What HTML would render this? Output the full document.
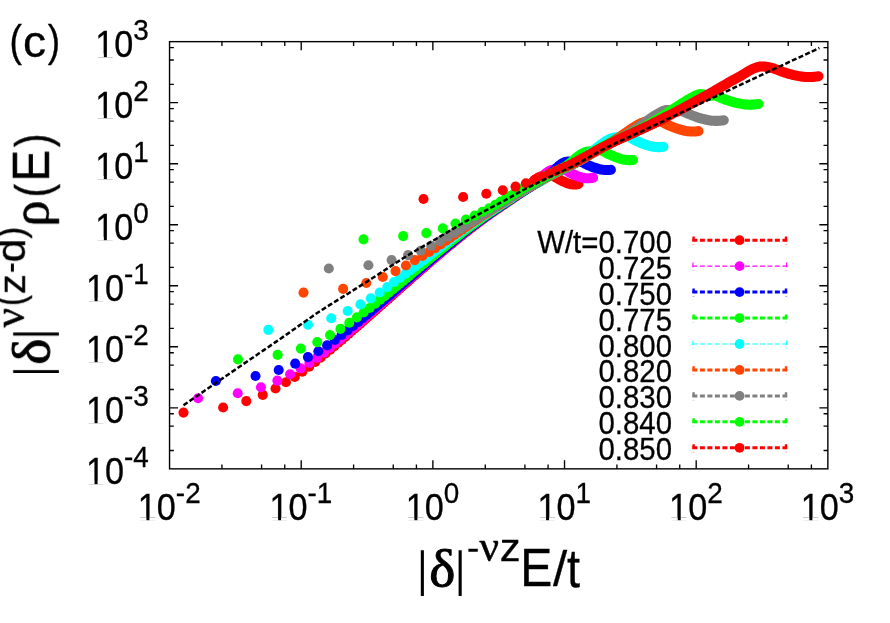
<!DOCTYPE html>
<html><head><meta charset="utf-8"><title>chart</title>
<style>html,body{margin:0;padding:0;background:#fff}body{width:890px;height:623px;overflow:hidden;font-family:"Liberation Sans",sans-serif}</style></head>
<body>
<svg width="890" height="623" viewBox="0 0 890 623" style="display:block">
<rect width="890" height="623" fill="#fff"/>
<path d="M221.94 468.85 v-4.3 M221.94 41.65 v4.3 M261.58 468.85 v-4.3 M261.58 41.65 v4.3 M284.76 468.85 v-4.3 M284.76 41.65 v4.3 M301.21 468.85 v-8.5 M301.21 41.65 v8.5 M353.6 468.85 v-4.3 M353.6 41.65 v4.3 M393.24 468.85 v-4.3 M393.24 41.65 v4.3 M416.42 468.85 v-4.3 M416.42 41.65 v4.3 M432.87 468.85 v-8.5 M432.87 41.65 v8.5 M485.26 468.85 v-4.3 M485.26 41.65 v4.3 M524.9 468.85 v-4.3 M524.9 41.65 v4.3 M548.08 468.85 v-4.3 M548.08 41.65 v4.3 M564.53 468.85 v-8.5 M564.53 41.65 v8.5 M616.92 468.85 v-4.3 M616.92 41.65 v4.3 M656.56 468.85 v-4.3 M656.56 41.65 v4.3 M679.74 468.85 v-4.3 M679.74 41.65 v4.3 M696.19 468.85 v-8.5 M696.19 41.65 v8.5 M748.58 468.85 v-4.3 M748.58 41.65 v4.3 M788.22 468.85 v-4.3 M788.22 41.65 v4.3 M811.4 468.85 v-4.3 M811.4 41.65 v4.3 M169.55 450.48 h4.3 M827.85 450.48 h-4.3 M169.55 426.19 h4.3 M827.85 426.19 h-4.3 M169.55 413.74 h4.3 M827.85 413.74 h-4.3 M169.55 407.82 h8.5 M827.85 407.82 h-8.5 M169.55 389.45 h4.3 M827.85 389.45 h-4.3 M169.55 365.16 h4.3 M827.85 365.16 h-4.3 M169.55 352.71 h4.3 M827.85 352.71 h-4.3 M169.55 346.79 h8.5 M827.85 346.79 h-8.5 M169.55 328.42 h4.3 M827.85 328.42 h-4.3 M169.55 304.14 h4.3 M827.85 304.14 h-4.3 M169.55 291.68 h4.3 M827.85 291.68 h-4.3 M169.55 285.76 h8.5 M827.85 285.76 h-8.5 M169.55 267.39 h4.3 M827.85 267.39 h-4.3 M169.55 243.11 h4.3 M827.85 243.11 h-4.3 M169.55 230.65 h4.3 M827.85 230.65 h-4.3 M169.55 224.74 h8.5 M827.85 224.74 h-8.5 M169.55 206.36 h4.3 M827.85 206.36 h-4.3 M169.55 182.08 h4.3 M827.85 182.08 h-4.3 M169.55 169.62 h4.3 M827.85 169.62 h-4.3 M169.55 163.71 h8.5 M827.85 163.71 h-8.5 M169.55 145.34 h4.3 M827.85 145.34 h-4.3 M169.55 121.05 h4.3 M827.85 121.05 h-4.3 M169.55 108.59 h4.3 M827.85 108.59 h-4.3 M169.55 102.68 h8.5 M827.85 102.68 h-8.5 M169.55 84.31 h4.3 M827.85 84.31 h-4.3 M169.55 60.02 h4.3 M827.85 60.02 h-4.3 M169.55 47.56 h4.3 M827.85 47.56 h-4.3" stroke="#000" stroke-width="1.35" fill="none"/>
<rect x="169.55" y="41.65" width="658.3" height="427.2" fill="none" stroke="#000" stroke-width="1.4"/>
<g font-family="Liberation Sans, sans-serif" fill="#000" stroke="#000" stroke-width="0.3" opacity="0.999">
<g transform="translate(85.95 483.85) scale(1 1.089)"><text font-size="34.2">10<tspan font-size="27.9" dy="-15.6">-4</tspan></text><path fill="#fff" stroke="none" d="M1.71 -2.55H8.60V0.6H1.71z M11.62 -2.55H18.13V0.6H11.62z"/></g>
<g transform="translate(85.95 422.82) scale(1 1.089)"><text font-size="34.2">10<tspan font-size="27.9" dy="-15.6">-3</tspan></text><path fill="#fff" stroke="none" d="M1.71 -2.55H8.60V0.6H1.71z M11.62 -2.55H18.13V0.6H11.62z"/></g>
<g transform="translate(85.95 361.79) scale(1 1.089)"><text font-size="34.2">10<tspan font-size="27.9" dy="-15.6">-2</tspan></text><path fill="#fff" stroke="none" d="M1.71 -2.55H8.60V0.6H1.71z M11.62 -2.55H18.13V0.6H11.62z"/></g>
<g transform="translate(85.95 300.76) scale(1 1.089)"><text font-size="34.2">10<tspan font-size="27.9" dy="-15.6">-1</tspan></text><path fill="#fff" stroke="none" d="M1.71 -2.55H8.60V0.6H1.71z M11.62 -2.55H18.13V0.6H11.62z"/></g>
<g transform="translate(95.24 239.74) scale(1 1.089)"><text font-size="34.2">10<tspan font-size="27.9" dy="-15.6">0</tspan></text><path fill="#fff" stroke="none" d="M1.71 -2.55H8.60V0.6H1.71z M11.62 -2.55H18.13V0.6H11.62z"/></g>
<g transform="translate(95.24 178.71) scale(1 1.089)"><text font-size="34.2">10<tspan font-size="27.9" dy="-15.6">1</tspan></text><path fill="#fff" stroke="none" d="M1.71 -2.55H8.60V0.6H1.71z M11.62 -2.55H18.13V0.6H11.62z"/></g>
<g transform="translate(95.24 117.68) scale(1 1.089)"><text font-size="34.2">10<tspan font-size="27.9" dy="-15.6">2</tspan></text><path fill="#fff" stroke="none" d="M1.71 -2.55H8.60V0.6H1.71z M11.62 -2.55H18.13V0.6H11.62z"/></g>
<g transform="translate(95.24 56.65) scale(1 1.089)"><text font-size="34.2">10<tspan font-size="27.9" dy="-15.6">3</tspan></text><path fill="#fff" stroke="none" d="M1.71 -2.55H8.60V0.6H1.71z M11.62 -2.55H18.13V0.6H11.62z"/></g>
<g transform="translate(137.82 520) scale(1 1.089)"><text font-size="34.2">10<tspan font-size="27.9" dy="-15.6">-2</tspan></text><path fill="#fff" stroke="none" d="M1.71 -2.55H8.60V0.6H1.71z M11.62 -2.55H18.13V0.6H11.62z"/></g>
<g transform="translate(269.48 520) scale(1 1.089)"><text font-size="34.2">10<tspan font-size="27.9" dy="-15.6">-1</tspan></text><path fill="#fff" stroke="none" d="M1.71 -2.55H8.60V0.6H1.71z M11.62 -2.55H18.13V0.6H11.62z"/></g>
<g transform="translate(405.79 520) scale(1 1.089)"><text font-size="34.2">10<tspan font-size="27.9" dy="-15.6">0</tspan></text><path fill="#fff" stroke="none" d="M1.71 -2.55H8.60V0.6H1.71z M11.62 -2.55H18.13V0.6H11.62z"/></g>
<g transform="translate(537.45 520) scale(1 1.089)"><text font-size="34.2">10<tspan font-size="27.9" dy="-15.6">1</tspan></text><path fill="#fff" stroke="none" d="M1.71 -2.55H8.60V0.6H1.71z M11.62 -2.55H18.13V0.6H11.62z"/></g>
<g transform="translate(669.11 520) scale(1 1.089)"><text font-size="34.2">10<tspan font-size="27.9" dy="-15.6">2</tspan></text><path fill="#fff" stroke="none" d="M1.71 -2.55H8.60V0.6H1.71z M11.62 -2.55H18.13V0.6H11.62z"/></g>
<g transform="translate(800.77 520) scale(1 1.089)"><text font-size="34.2">10<tspan font-size="27.9" dy="-15.6">3</tspan></text><path fill="#fff" stroke="none" d="M1.71 -2.55H8.60V0.6H1.71z M11.62 -2.55H18.13V0.6H11.62z"/></g>
<text transform="translate(9.58 56.30) scale(1 1.1900)" font-family="Liberation Sans, sans-serif" font-size="37.34">(</text>
<text transform="translate(22.94 56.96) scale(1 0.9806)" font-family="Liberation Sans, sans-serif" font-size="46.16">c</text>
<text transform="translate(47.78 56.30) scale(1 1.2021)" font-family="Liberation Sans, sans-serif" font-size="36.97">)</text>
<path stroke="none" d="M420.8 550.2h3.1v45.9h-3.1z M458.6 550.2h3.1v45.9h-3.1z M468.4 548.7h9.4v3.1h-9.4z"/>
<text transform="translate(429.32 585.99) scale(1 0.9469)" font-family="Liberation Serif, serif" font-size="55.30" stroke="#000" stroke-width="1.00" stroke-linejoin="round">δ</text>
<text transform="translate(479.55 560.52) scale(1 1.0181)" font-family="Liberation Serif, serif" font-size="43.16" stroke="#000" stroke-width="0.50" stroke-linejoin="round">ν</text>
<text transform="translate(499.71 560.70) scale(1 0.9342)" font-family="Liberation Sans, sans-serif" font-size="41.74">z</text>
<text transform="translate(520.35 586.10) scale(1 1.0957)" font-family="Liberation Sans, sans-serif" font-size="48.15">E</text>
<text transform="translate(553.00 586.40) scale(1 0.9936)" font-family="Liberation Sans, sans-serif" font-size="51.12">/</text>
<text transform="translate(566.89 586.79) scale(1 1.1320)" font-family="Liberation Sans, sans-serif" font-size="46.99">t</text>
<g transform="translate(48.9 373.2) rotate(-90)">
<path stroke="none" d="M0 -35.8h3.1v45.9h-3.1z M37.6 -35.8h3.1v45.9h-3.1z M101.5 -38h8.1v3h-8.1z"/>
<text transform="translate(8.52 -0.21) scale(1 0.9392)" font-family="Liberation Serif, serif" font-size="55.30" stroke="#000" stroke-width="1.00" stroke-linejoin="round">δ</text>
<text transform="translate(45.65 -25.48) scale(1 1.0236)" font-family="Liberation Serif, serif" font-size="42.93" stroke="#000" stroke-width="0.50" stroke-linejoin="round">ν</text>
<text transform="translate(67.19 -24.72) scale(1 1.2243)" font-family="Liberation Sans, sans-serif" font-size="32.44">(</text>
<text transform="translate(79.08 -24.20) scale(1 0.9410)" font-family="Liberation Sans, sans-serif" font-size="40.03">z</text>
<text transform="translate(110.70 -24.19) scale(1 0.9360)" font-family="Liberation Sans, sans-serif" font-size="42.92">d</text>
<text transform="translate(134.49 -24.72) scale(1 1.0968)" font-family="Liberation Sans, sans-serif" font-size="36.21">)</text>
<text transform="translate(146.39 -0.57) scale(1 0.9942)" font-family="Liberation Serif, serif" font-size="52.79" stroke="#000" stroke-width="0.60" stroke-linejoin="round">ρ</text>
<text transform="translate(175.87 0.50) scale(1 1.2331)" font-family="Liberation Sans, sans-serif" font-size="40.74">(</text>
<text transform="translate(191.48 0.00) scale(1 1.0920)" font-family="Liberation Sans, sans-serif" font-size="47.79">E</text>
<text transform="translate(226.06 0.50) scale(1 1.2218)" font-family="Liberation Sans, sans-serif" font-size="41.12">)</text>
</g>
<text transform="translate(672 252.7) scale(1 1.07)" font-size="29.4" text-anchor="end">W/t=0.700</text>
<text transform="translate(672 278.65) scale(1 1.07)" font-size="29.4" text-anchor="end">0.725</text>
<text transform="translate(672 304.6) scale(1 1.07)" font-size="29.4" text-anchor="end">0.750</text>
<text transform="translate(672 330.55) scale(1 1.07)" font-size="29.4" text-anchor="end">0.775</text>
<text transform="translate(672 356.5) scale(1 1.07)" font-size="29.4" text-anchor="end">0.800</text>
<text transform="translate(672 382.45) scale(1 1.07)" font-size="29.4" text-anchor="end">0.820</text>
<text transform="translate(672 408.4) scale(1 1.07)" font-size="29.4" text-anchor="end">0.830</text>
<text transform="translate(672 434.35) scale(1 1.07)" font-size="29.4" text-anchor="end">0.840</text>
<text transform="translate(672 460.3) scale(1 1.07)" font-size="29.4" text-anchor="end">0.850</text>
</g>
<path d="M692.4 240.2 H787.2" stroke="#ff0000" stroke-width="3" stroke-dasharray="5 2.5" fill="none"/>
<path d="M693.6 241.2 v-4.6 M786 241.2 v-4.6" stroke="#ff0000" stroke-width="2.4" fill="none"/>
<path d="M692.4 244.6 h2 M785.2 244.6 h2" stroke="#ff0000" stroke-width="0.8" opacity="0.4" fill="none"/>
<circle cx="739.6" cy="240.2" r="4.9" fill="#ff0000"/>
<path d="M692.4 266.15 H787.2" stroke="#ff00ff" stroke-width="1.2" stroke-dasharray="5 2.5" fill="none"/>
<path d="M692.95 267.15 v-4.6 M786.65 267.15 v-4.6" stroke="#ff00ff" stroke-width="1.1" fill="none"/>
<path d="M692.4 270.55 h2 M785.2 270.55 h2" stroke="#ff00ff" stroke-width="0.8" opacity="0.4" fill="none"/>
<circle cx="739.6" cy="266.15" r="4.9" fill="#ff00ff"/>
<path d="M692.4 292.1 H787.2" stroke="#0000ff" stroke-width="3" stroke-dasharray="5 2.5" fill="none"/>
<path d="M693.6 293.1 v-4.6 M786 293.1 v-4.6" stroke="#0000ff" stroke-width="2.4" fill="none"/>
<path d="M692.4 296.5 h2 M785.2 296.5 h2" stroke="#0000ff" stroke-width="0.8" opacity="0.4" fill="none"/>
<circle cx="739.6" cy="292.1" r="4.9" fill="#0000ff"/>
<path d="M692.4 318.05 H787.2" stroke="#00ff00" stroke-width="3" stroke-dasharray="5 2.5" fill="none"/>
<path d="M693.6 319.05 v-4.6 M786 319.05 v-4.6" stroke="#00ff00" stroke-width="2.4" fill="none"/>
<path d="M692.4 322.45 h2 M785.2 322.45 h2" stroke="#00ff00" stroke-width="0.8" opacity="0.4" fill="none"/>
<circle cx="739.6" cy="318.05" r="4.9" fill="#00ff00"/>
<path d="M692.4 344 H787.2" stroke="#00ffff" stroke-width="1.2" stroke-dasharray="5 2.5" fill="none"/>
<path d="M692.95 345 v-4.6 M786.65 345 v-4.6" stroke="#00ffff" stroke-width="1.1" fill="none"/>
<path d="M692.4 348.4 h2 M785.2 348.4 h2" stroke="#00ffff" stroke-width="0.8" opacity="0.4" fill="none"/>
<circle cx="739.6" cy="344" r="4.9" fill="#00ffff"/>
<path d="M692.4 369.95 H787.2" stroke="#ff4500" stroke-width="3" stroke-dasharray="5 2.5" fill="none"/>
<path d="M693.6 370.95 v-4.6 M786 370.95 v-4.6" stroke="#ff4500" stroke-width="2.4" fill="none"/>
<path d="M692.4 374.35 h2 M785.2 374.35 h2" stroke="#ff4500" stroke-width="0.8" opacity="0.4" fill="none"/>
<circle cx="739.6" cy="369.95" r="4.9" fill="#ff4500"/>
<path d="M692.4 395.9 H787.2" stroke="#808080" stroke-width="3" stroke-dasharray="5 2.5" fill="none"/>
<path d="M693.6 396.9 v-4.6 M786 396.9 v-4.6" stroke="#808080" stroke-width="2.4" fill="none"/>
<path d="M692.4 400.3 h2 M785.2 400.3 h2" stroke="#808080" stroke-width="0.8" opacity="0.4" fill="none"/>
<circle cx="739.6" cy="395.9" r="4.9" fill="#808080"/>
<path d="M692.4 421.85 H787.2" stroke="#00ff00" stroke-width="3" stroke-dasharray="5 2.5" fill="none"/>
<path d="M693.6 422.85 v-4.6 M786 422.85 v-4.6" stroke="#00ff00" stroke-width="2.4" fill="none"/>
<path d="M692.4 426.25 h2 M785.2 426.25 h2" stroke="#00ff00" stroke-width="0.8" opacity="0.4" fill="none"/>
<circle cx="739.6" cy="421.85" r="4.9" fill="#00ff00"/>
<path d="M692.4 447.8 H787.2" stroke="#ff0000" stroke-width="3" stroke-dasharray="5 2.5" fill="none"/>
<path d="M693.6 448.8 v-4.6 M786 448.8 v-4.6" stroke="#ff0000" stroke-width="2.4" fill="none"/>
<path d="M692.4 452.2 h2 M785.2 452.2 h2" stroke="#ff0000" stroke-width="0.8" opacity="0.4" fill="none"/>
<circle cx="739.6" cy="447.8" r="4.9" fill="#ff0000"/>
<g fill="#ff0000">
<circle cx="183.5" cy="412.6" r="5.05"/><circle cx="223.13" cy="407.5" r="5.05"/><circle cx="246.32" cy="401.1" r="5.05"/><circle cx="262.77" cy="394.9" r="5.05"/><circle cx="275.53" cy="388.5" r="5.05"/><circle cx="285.95" cy="382.2" r="5.05"/><circle cx="294.77" cy="376.9" r="5.05"/><circle cx="302.4" cy="371.6" r="5.05"/><circle cx="309.14" cy="366.7" r="5.05"/><circle cx="315.16" cy="362" r="5.05"/><circle cx="320.61" cy="357.61" r="5.05"/><circle cx="325.59" cy="353.52" r="5.05"/><circle cx="330.16" cy="349.71" r="5.05"/><circle cx="334.4" cy="346.12" r="5.05"/><circle cx="338.34" cy="342.76" r="5.05"/><circle cx="342.03" cy="339.58" r="5.05"/><circle cx="345.5" cy="336.58" r="5.05"/><circle cx="348.77" cy="333.74" r="5.05"/><circle cx="351.86" cy="331.03" r="5.05"/><circle cx="354.79" cy="328.46" r="5.05"/><circle cx="357.58" cy="326" r="5.05"/><circle cx="360.24" cy="323.65" r="5.05"/><circle cx="362.79" cy="321.4" r="5.05"/><circle cx="365.22" cy="319.25" r="5.05"/><circle cx="367.55" cy="317.17" r="5.05"/><circle cx="369.8" cy="315.18" r="5.05"/><circle cx="371.95" cy="313.26" r="5.05"/><circle cx="374.03" cy="311.41" r="5.05"/><circle cx="376.04" cy="309.62" r="5.05"/><circle cx="377.98" cy="307.89" r="5.05"/><circle cx="379.85" cy="306.22" r="5.05"/><circle cx="381.67" cy="304.6" r="5.05"/><circle cx="383.43" cy="303.03" r="5.05"/><circle cx="385.13" cy="301.5" r="5.05"/><circle cx="386.79" cy="300.02" r="5.05"/><circle cx="388.4" cy="298.58" r="5.05"/><circle cx="389.97" cy="297.18" r="5.05"/><circle cx="391.49" cy="295.82" r="5.05"/><circle cx="392.98" cy="294.49" r="5.05"/><circle cx="394.43" cy="293.2" r="5.05"/><circle cx="395.84" cy="291.94" r="5.05"/><circle cx="397.22" cy="290.71" r="5.05"/><circle cx="398.56" cy="289.51" r="5.05"/><circle cx="399.88" cy="288.34" r="5.05"/><circle cx="401.16" cy="287.2" r="5.05"/><circle cx="402.42" cy="286.08" r="5.05"/><circle cx="403.65" cy="284.99" r="5.05"/><circle cx="404.85" cy="283.92" r="5.05"/><circle cx="406.03" cy="282.87" r="5.05"/><circle cx="407.19" cy="281.85" r="5.05"/><circle cx="408.32" cy="280.85" r="5.05"/><circle cx="409.43" cy="279.87" r="5.05"/><circle cx="410.52" cy="278.9" r="5.05"/><circle cx="411.59" cy="277.96" r="5.05"/><circle cx="412.64" cy="277.04" r="5.05"/><circle cx="413.67" cy="276.14" r="5.05"/><circle cx="414.68" cy="275.25" r="5.05"/><circle cx="415.67" cy="274.38" r="5.05"/><circle cx="416.65" cy="273.52" r="5.05"/><circle cx="417.61" cy="272.68" r="5.05"/><circle cx="418.56" cy="271.86" r="5.05"/><circle cx="419.49" cy="271.05" r="5.05"/><circle cx="420.4" cy="270.26" r="5.05"/><circle cx="421.3" cy="269.48" r="5.05"/><circle cx="422.19" cy="268.71" r="5.05"/><circle cx="423.06" cy="267.95" r="5.05"/><circle cx="423.92" cy="267.21" r="5.05"/><circle cx="424.77" cy="266.48" r="5.05"/><circle cx="425.6" cy="265.76" r="5.05"/><circle cx="426.43" cy="265.05" r="5.05"/>
</g>
<path d="M426.43 265.05 L428.04 263.66 L429.6 262.32 L431.13 261.01 L432.61 259.74 L434.06 258.51 L435.47 257.3 L436.85 256.13 L438.2 254.98 L439.51 253.87 L440.8 252.78 L442.05 251.72 L443.28 250.68 L444.49 249.67 L446.25 248.19 L447.95 246.76 L449.61 245.37 L451.22 244.03 L452.79 242.74 L454.31 241.48 L455.8 240.26 L457.25 239.07 L458.66 237.92 L460.03 236.8 L461.38 235.71 L462.69 234.66 L463.98 233.63 L465.24 232.63 L466.47 231.66 L467.67 230.71 L469.24 229.48 L470.76 228.3 L472.25 227.15 L473.69 226.04 L475.11 224.96 L476.48 223.92 L477.83 222.91 L479.14 221.92 L480.43 220.96 L481.69 220.03 L482.92 219.13 L484.12 218.25 L485.59 217.18 L487.02 216.15 L488.42 215.15 L489.79 214.18 L491.12 213.24 L492.42 212.33 L493.69 211.44 L494.94 210.58 L496.16 209.73 L497.59 208.75 L498.98 207.79 L500.35 206.86 L501.67 205.95 L502.97 205.07 L504.25 204.2 L505.49 203.36 L506.7 202.53 L508.09 201.58 L509.45 200.65 L510.77 199.74 L512.06 198.85 L513.33 197.98 L514.57 197.13 L515.78 196.29 L517.13 195.36 L518.45 194.44 L519.74 193.52 L521.01 192.6 L522.24 191.67 L523.45 190.72 L524.79 189.62 L526.09 188.49 L527.36 187.33 L528.6 186.14 L529.82 184.95 L531.15 183.65 L532.44 182.38 L533.7 181.18 L534.94 180.08 L536.15 179.09 L537.46 178.16 L538.73 177.38 L539.98 176.81 L541.2 176.45 L542.5 176.24 L543.77 176.19 L545.02 176.21 L546.24 176.25 L547.53 176.26 L548.79 176.16 L550.03 175.92 L551.24 175.51 L552.51 175.51 L553.76 176.17 L554.98 176.91 L556.26 177.72 L557.51 178.44 L558.74 179.11 L560.01 179.8 L561.26 180.47 L562.49 181.09 L563.76 181.69 L565 182.23 L566.22 182.72 L567.48 183.2 L568.71 183.61 L569.92 183.94 L571.17 184.19 L572.39 184.34 L573.65 184.42 L574.88 184.43 L576.09 184.38 L577.32 184.23 L578.48 184.06" stroke="#ff0000" stroke-width="10.1" stroke-linecap="round" stroke-linejoin="round" fill="none"/>
<g fill="#ff00ff">
<circle cx="198.1" cy="398.2" r="5.05"/><circle cx="237.73" cy="393.2" r="5.05"/><circle cx="260.92" cy="387.3" r="5.05"/><circle cx="277.37" cy="380.6" r="5.05"/><circle cx="290.13" cy="374.2" r="5.05"/><circle cx="300.55" cy="368.4" r="5.05"/><circle cx="309.37" cy="362.9" r="5.05"/><circle cx="317" cy="357.8" r="5.05"/><circle cx="323.74" cy="352.63" r="5.05"/><circle cx="329.76" cy="347.85" r="5.05"/><circle cx="335.21" cy="343.43" r="5.05"/><circle cx="340.19" cy="339.32" r="5.05"/><circle cx="344.76" cy="335.48" r="5.05"/><circle cx="349" cy="331.89" r="5.05"/><circle cx="352.94" cy="328.52" r="5.05"/><circle cx="356.63" cy="325.34" r="5.05"/><circle cx="360.1" cy="322.33" r="5.05"/><circle cx="363.37" cy="319.49" r="5.05"/><circle cx="366.46" cy="316.79" r="5.05"/><circle cx="369.39" cy="314.22" r="5.05"/><circle cx="372.18" cy="311.77" r="5.05"/><circle cx="374.84" cy="309.43" r="5.05"/><circle cx="377.39" cy="307.19" r="5.05"/><circle cx="379.82" cy="305.04" r="5.05"/><circle cx="382.15" cy="302.98" r="5.05"/><circle cx="384.4" cy="300.99" r="5.05"/><circle cx="386.55" cy="299.08" r="5.05"/><circle cx="388.63" cy="297.24" r="5.05"/><circle cx="390.64" cy="295.46" r="5.05"/><circle cx="392.58" cy="293.74" r="5.05"/><circle cx="394.45" cy="292.08" r="5.05"/><circle cx="396.27" cy="290.47" r="5.05"/><circle cx="398.03" cy="288.91" r="5.05"/><circle cx="399.73" cy="287.4" r="5.05"/><circle cx="401.39" cy="285.94" r="5.05"/><circle cx="403" cy="284.51" r="5.05"/><circle cx="404.57" cy="283.13" r="5.05"/><circle cx="406.09" cy="281.79" r="5.05"/><circle cx="407.58" cy="280.48" r="5.05"/><circle cx="409.03" cy="279.21" r="5.05"/><circle cx="410.44" cy="277.97" r="5.05"/><circle cx="411.82" cy="276.76" r="5.05"/><circle cx="413.16" cy="275.59" r="5.05"/><circle cx="414.48" cy="274.44" r="5.05"/><circle cx="415.76" cy="273.33" r="5.05"/><circle cx="417.02" cy="272.23" r="5.05"/><circle cx="418.25" cy="271.17" r="5.05"/><circle cx="419.45" cy="270.13" r="5.05"/><circle cx="420.63" cy="269.11" r="5.05"/><circle cx="421.79" cy="268.11" r="5.05"/><circle cx="422.92" cy="267.14" r="5.05"/><circle cx="424.03" cy="266.19" r="5.05"/><circle cx="425.12" cy="265.25" r="5.05"/><circle cx="426.19" cy="264.34" r="5.05"/><circle cx="427.24" cy="263.44" r="5.05"/><circle cx="428.27" cy="262.56" r="5.05"/><circle cx="429.28" cy="261.7" r="5.05"/><circle cx="430.27" cy="260.85" r="5.05"/><circle cx="431.25" cy="260.02" r="5.05"/><circle cx="432.21" cy="259.21" r="5.05"/><circle cx="433.16" cy="258.4" r="5.05"/><circle cx="434.09" cy="257.61" r="5.05"/><circle cx="435" cy="256.84" r="5.05"/><circle cx="435.9" cy="256.08" r="5.05"/><circle cx="436.79" cy="255.33" r="5.05"/><circle cx="437.66" cy="254.59" r="5.05"/><circle cx="438.52" cy="253.86" r="5.05"/><circle cx="439.37" cy="253.15" r="5.05"/><circle cx="440.2" cy="252.45" r="5.05"/><circle cx="441.03" cy="251.76" r="5.05"/>
</g>
<path d="M441.03 251.76 L442.64 250.4 L444.2 249.09 L445.73 247.82 L447.21 246.58 L448.66 245.38 L450.07 244.21 L451.45 243.08 L452.8 241.97 L454.11 240.89 L455.4 239.84 L456.65 238.82 L457.88 237.82 L459.09 236.85 L460.85 235.44 L462.55 234.08 L464.21 232.76 L465.82 231.5 L467.39 230.27 L468.91 229.09 L470.4 227.94 L471.85 226.83 L473.26 225.76 L474.63 224.72 L475.98 223.71 L477.29 222.73 L478.58 221.77 L479.84 220.84 L481.07 219.94 L482.27 219.06 L483.84 217.92 L485.36 216.83 L486.85 215.77 L488.29 214.75 L489.71 213.76 L491.08 212.79 L492.43 211.86 L493.74 210.96 L495.03 210.07 L496.29 209.21 L497.52 208.38 L498.72 207.56 L500.19 206.57 L501.62 205.6 L503.02 204.66 L504.39 203.74 L505.72 202.84 L507.02 201.96 L508.29 201.1 L509.54 200.25 L510.76 199.42 L512.19 198.45 L513.58 197.52 L514.95 196.61 L516.27 195.73 L517.57 194.87 L518.85 194.05 L520.09 193.26 L521.3 192.49 L522.69 191.62 L524.05 190.77 L525.37 189.93 L526.66 189.1 L527.93 188.28 L529.17 187.46 L530.38 186.64 L531.73 185.68 L533.05 184.7 L534.34 183.69 L535.61 182.66 L536.84 181.6 L538.05 180.51 L539.39 179.28 L540.69 178.05 L541.96 176.84 L543.2 175.67 L544.42 174.57 L545.75 173.44 L547.04 172.43 L548.3 171.56 L549.54 170.84 L550.75 170.27 L552.06 169.86 L553.33 169.65 L554.58 169.59 L555.8 169.62 L557.1 169.71 L558.37 169.81 L559.62 169.87 L560.84 169.84 L562.13 169.66 L563.39 169.32 L564.63 169.27 L565.84 169.95 L567.11 170.77 L568.36 171.61 L569.58 172.38 L570.86 173.1 L572.11 173.75 L573.34 174.37 L574.61 174.98 L575.86 175.53 L577.09 176.02 L578.36 176.47 L579.6 176.87 L580.82 177.24 L582.08 177.57 L583.31 177.85 L584.52 178.05 L585.77 178.18 L586.99 178.24 L588.25 178.24 L589.48 178.19 L590.69 178.08 L591.92 177.9 L593.08 177.71" stroke="#ff00ff" stroke-width="10.1" stroke-linecap="round" stroke-linejoin="round" fill="none"/>
<g fill="#0000ff">
<circle cx="215.9" cy="381" r="5.05"/><circle cx="255.53" cy="376" r="5.05"/><circle cx="278.72" cy="370" r="5.05"/><circle cx="295.17" cy="363.6" r="5.05"/><circle cx="307.93" cy="357.1" r="5.05"/><circle cx="318.35" cy="351.2" r="5.05"/><circle cx="327.17" cy="345.39" r="5.05"/><circle cx="334.8" cy="339.98" r="5.05"/><circle cx="341.54" cy="334.97" r="5.05"/><circle cx="347.56" cy="330.31" r="5.05"/><circle cx="353.01" cy="325.98" r="5.05"/><circle cx="357.99" cy="321.95" r="5.05"/><circle cx="362.56" cy="318.18" r="5.05"/><circle cx="366.8" cy="314.65" r="5.05"/><circle cx="370.74" cy="311.33" r="5.05"/><circle cx="374.43" cy="308.2" r="5.05"/><circle cx="377.9" cy="305.24" r="5.05"/><circle cx="381.17" cy="302.44" r="5.05"/><circle cx="384.26" cy="299.77" r="5.05"/><circle cx="387.19" cy="297.24" r="5.05"/><circle cx="389.98" cy="294.82" r="5.05"/><circle cx="392.64" cy="292.51" r="5.05"/><circle cx="395.19" cy="290.3" r="5.05"/><circle cx="397.62" cy="288.18" r="5.05"/><circle cx="399.95" cy="286.15" r="5.05"/><circle cx="402.2" cy="284.2" r="5.05"/><circle cx="404.35" cy="282.32" r="5.05"/><circle cx="406.43" cy="280.51" r="5.05"/><circle cx="408.44" cy="278.77" r="5.05"/><circle cx="410.38" cy="277.09" r="5.05"/><circle cx="412.25" cy="275.47" r="5.05"/><circle cx="414.07" cy="273.91" r="5.05"/><circle cx="415.83" cy="272.4" r="5.05"/><circle cx="417.53" cy="270.93" r="5.05"/><circle cx="419.19" cy="269.51" r="5.05"/><circle cx="420.8" cy="268.14" r="5.05"/><circle cx="422.37" cy="266.8" r="5.05"/><circle cx="423.89" cy="265.51" r="5.05"/><circle cx="425.38" cy="264.25" r="5.05"/><circle cx="426.83" cy="263.02" r="5.05"/><circle cx="428.24" cy="261.83" r="5.05"/><circle cx="429.62" cy="260.66" r="5.05"/><circle cx="430.96" cy="259.53" r="5.05"/><circle cx="432.28" cy="258.42" r="5.05"/><circle cx="433.56" cy="257.34" r="5.05"/><circle cx="434.82" cy="256.29" r="5.05"/><circle cx="436.05" cy="255.25" r="5.05"/><circle cx="437.25" cy="254.24" r="5.05"/><circle cx="438.43" cy="253.26" r="5.05"/><circle cx="439.59" cy="252.29" r="5.05"/><circle cx="440.72" cy="251.35" r="5.05"/><circle cx="441.83" cy="250.42" r="5.05"/><circle cx="442.92" cy="249.52" r="5.05"/><circle cx="443.99" cy="248.63" r="5.05"/><circle cx="445.04" cy="247.76" r="5.05"/><circle cx="446.07" cy="246.91" r="5.05"/><circle cx="447.08" cy="246.07" r="5.05"/><circle cx="448.07" cy="245.25" r="5.05"/><circle cx="449.05" cy="244.45" r="5.05"/><circle cx="450.01" cy="243.66" r="5.05"/><circle cx="450.96" cy="242.89" r="5.05"/><circle cx="451.89" cy="242.13" r="5.05"/><circle cx="452.8" cy="241.38" r="5.05"/><circle cx="453.7" cy="240.65" r="5.05"/><circle cx="454.59" cy="239.93" r="5.05"/><circle cx="455.46" cy="239.22" r="5.05"/><circle cx="456.32" cy="238.53" r="5.05"/><circle cx="457.17" cy="237.84" r="5.05"/><circle cx="458" cy="237.17" r="5.05"/><circle cx="458.83" cy="236.51" r="5.05"/>
</g>
<path d="M458.83 236.51 L460.44 235.23 L462 233.99 L463.53 232.78 L465.01 231.62 L466.46 230.49 L467.87 229.4 L469.25 228.34 L470.6 227.32 L471.91 226.32 L473.2 225.35 L474.45 224.41 L475.68 223.49 L476.89 222.6 L478.65 221.3 L480.35 220.05 L482.01 218.85 L483.62 217.69 L485.19 216.57 L486.71 215.5 L488.2 214.46 L489.65 213.45 L491.06 212.47 L492.43 211.52 L493.78 210.61 L495.09 209.71 L496.38 208.84 L497.64 207.99 L498.87 207.17 L500.07 206.36 L501.64 205.31 L503.16 204.29 L504.65 203.3 L506.09 202.33 L507.51 201.38 L508.88 200.45 L510.23 199.55 L511.54 198.66 L512.83 197.8 L514.09 196.96 L515.32 196.15 L516.52 195.36 L517.99 194.41 L519.42 193.5 L520.82 192.62 L522.19 191.78 L523.52 190.96 L524.82 190.17 L526.09 189.4 L527.34 188.65 L528.56 187.93 L529.99 187.08 L531.38 186.26 L532.75 185.47 L534.07 184.69 L535.37 183.94 L536.65 183.19 L537.89 182.46 L539.1 181.74 L540.49 180.9 L541.85 180.05 L543.17 179.2 L544.46 178.33 L545.73 177.44 L546.97 176.52 L548.18 175.57 L549.53 174.46 L550.85 173.32 L552.14 172.15 L553.41 170.97 L554.64 169.81 L555.85 168.66 L557.19 167.42 L558.49 166.26 L559.76 165.21 L561 164.29 L562.22 163.49 L563.55 162.76 L564.84 162.19 L566.1 161.83 L567.34 161.65 L568.55 161.6 L569.86 161.67 L571.13 161.8 L572.38 161.95 L573.6 162.06 L574.9 162.1 L576.17 162.02 L577.42 161.78 L578.64 161.38 L579.93 161.05 L581.19 161.59 L582.43 162.23 L583.64 162.91 L584.91 163.62 L586.16 164.25 L587.38 164.81 L588.66 165.38 L589.91 165.93 L591.14 166.44 L592.41 166.94 L593.66 167.38 L594.89 167.78 L596.16 168.18 L597.4 168.55 L598.62 168.89 L599.88 169.21 L601.11 169.47 L602.32 169.68 L603.57 169.83 L604.79 169.93 L606.05 170 L607.28 170.02 L608.49 170 L609.72 169.92 L610.88 169.83" stroke="#0000ff" stroke-width="10.1" stroke-linecap="round" stroke-linejoin="round" fill="none"/>
<g fill="#00ff00">
<circle cx="238" cy="359.4" r="5.05"/><circle cx="277.63" cy="354.9" r="5.05"/><circle cx="300.82" cy="348.6" r="5.05"/><circle cx="317.27" cy="342.1" r="5.05"/><circle cx="330.03" cy="335.1" r="5.05"/><circle cx="340.45" cy="328.9" r="5.05"/><circle cx="349.27" cy="322.8" r="5.05"/><circle cx="356.9" cy="317.4" r="5.05"/><circle cx="363.64" cy="312.52" r="5.05"/><circle cx="369.66" cy="307.98" r="5.05"/><circle cx="375.11" cy="303.75" r="5.05"/><circle cx="380.09" cy="299.81" r="5.05"/><circle cx="384.66" cy="296.12" r="5.05"/><circle cx="388.9" cy="292.66" r="5.05"/><circle cx="392.84" cy="289.41" r="5.05"/><circle cx="396.53" cy="286.34" r="5.05"/><circle cx="400" cy="283.45" r="5.05"/><circle cx="403.27" cy="280.72" r="5.05"/><circle cx="406.36" cy="278.13" r="5.05"/><circle cx="409.29" cy="275.67" r="5.05"/><circle cx="412.08" cy="273.33" r="5.05"/><circle cx="414.74" cy="271.11" r="5.05"/><circle cx="417.29" cy="268.99" r="5.05"/><circle cx="419.72" cy="266.96" r="5.05"/><circle cx="422.05" cy="265.03" r="5.05"/><circle cx="424.3" cy="263.17" r="5.05"/><circle cx="426.45" cy="261.39" r="5.05"/><circle cx="428.53" cy="259.67" r="5.05"/><circle cx="430.54" cy="258.02" r="5.05"/><circle cx="432.48" cy="256.43" r="5.05"/><circle cx="434.35" cy="254.89" r="5.05"/><circle cx="436.17" cy="253.4" r="5.05"/><circle cx="437.93" cy="251.96" r="5.05"/><circle cx="439.63" cy="250.56" r="5.05"/><circle cx="441.29" cy="249.21" r="5.05"/><circle cx="442.9" cy="247.9" r="5.05"/><circle cx="444.47" cy="246.63" r="5.05"/><circle cx="445.99" cy="245.39" r="5.05"/><circle cx="447.48" cy="244.19" r="5.05"/><circle cx="448.93" cy="243.02" r="5.05"/><circle cx="450.34" cy="241.89" r="5.05"/><circle cx="451.72" cy="240.78" r="5.05"/><circle cx="453.06" cy="239.71" r="5.05"/><circle cx="454.38" cy="238.66" r="5.05"/><circle cx="455.66" cy="237.64" r="5.05"/><circle cx="456.92" cy="236.65" r="5.05"/><circle cx="458.15" cy="235.68" r="5.05"/><circle cx="459.35" cy="234.74" r="5.05"/><circle cx="460.53" cy="233.82" r="5.05"/><circle cx="461.69" cy="232.92" r="5.05"/><circle cx="462.82" cy="232.04" r="5.05"/><circle cx="463.93" cy="231.19" r="5.05"/><circle cx="465.02" cy="230.35" r="5.05"/><circle cx="466.09" cy="229.54" r="5.05"/><circle cx="467.14" cy="228.74" r="5.05"/><circle cx="468.17" cy="227.97" r="5.05"/><circle cx="469.18" cy="227.21" r="5.05"/><circle cx="470.17" cy="226.46" r="5.05"/><circle cx="471.15" cy="225.74" r="5.05"/><circle cx="472.11" cy="225.02" r="5.05"/><circle cx="473.06" cy="224.33" r="5.05"/><circle cx="473.99" cy="223.64" r="5.05"/><circle cx="474.9" cy="222.98" r="5.05"/><circle cx="475.8" cy="222.32" r="5.05"/><circle cx="476.69" cy="221.68" r="5.05"/><circle cx="477.56" cy="221.05" r="5.05"/><circle cx="478.42" cy="220.43" r="5.05"/><circle cx="479.27" cy="219.82" r="5.05"/><circle cx="480.1" cy="219.22" r="5.05"/><circle cx="480.93" cy="218.64" r="5.05"/>
</g>
<path d="M480.93 218.64 L482.54 217.5 L484.1 216.4 L485.63 215.34 L487.11 214.32 L488.56 213.33 L489.97 212.37 L491.35 211.44 L492.7 210.54 L494.01 209.66 L495.3 208.81 L496.55 207.98 L497.78 207.17 L498.99 206.37 L500.75 205.22 L502.45 204.1 L504.11 203.02 L505.72 201.96 L507.29 200.93 L508.81 199.92 L510.3 198.93 L511.75 197.97 L513.16 197.04 L514.53 196.14 L515.88 195.27 L517.19 194.43 L518.48 193.61 L519.74 192.83 L520.97 192.08 L522.17 191.35 L523.74 190.4 L525.26 189.49 L526.75 188.62 L528.19 187.77 L529.61 186.95 L530.98 186.15 L532.33 185.38 L533.64 184.64 L534.93 183.91 L536.19 183.21 L537.42 182.53 L538.62 181.86 L540.09 181.06 L541.52 180.28 L542.92 179.52 L544.29 178.79 L545.62 178.08 L546.92 177.38 L548.19 176.7 L549.44 176.04 L550.66 175.39 L552.09 174.62 L553.48 173.87 L554.85 173.12 L556.17 172.37 L557.47 171.63 L558.75 170.89 L559.99 170.15 L561.2 169.42 L562.59 168.54 L563.95 167.66 L565.27 166.75 L566.56 165.82 L567.83 164.86 L569.07 163.89 L570.28 162.9 L571.63 161.76 L572.95 160.63 L574.24 159.53 L575.51 158.46 L576.74 157.44 L577.95 156.49 L579.29 155.49 L580.59 154.58 L581.86 153.76 L583.1 153.05 L584.32 152.47 L585.65 152.01 L586.94 151.69 L588.2 151.48 L589.44 151.36 L590.65 151.29 L591.96 151.22 L593.23 151.14 L594.48 151 L595.7 150.78 L597 150.44 L598.27 149.97 L599.52 149.37 L600.74 149.97 L602.03 150.59 L603.29 151.27 L604.53 151.96 L605.74 152.62 L607.01 153.26 L608.26 153.86 L609.48 154.45 L610.76 155.06 L612.01 155.63 L613.24 156.17 L614.51 156.69 L615.76 157.17 L616.99 157.61 L618.26 158.06 L619.5 158.47 L620.72 158.84 L621.98 159.19 L623.21 159.47 L624.42 159.69 L625.67 159.86 L626.89 159.99 L628.15 160.08 L629.38 160.12 L630.59 160.12 L631.82 160.06 L632.98 159.99" stroke="#00ff00" stroke-width="10.1" stroke-linecap="round" stroke-linejoin="round" fill="none"/>
<g fill="#00ffff">
<circle cx="268.4" cy="329.9" r="5.05"/><circle cx="308.03" cy="324.7" r="5.05"/><circle cx="331.22" cy="318.3" r="5.05"/><circle cx="347.67" cy="311" r="5.05"/><circle cx="360.43" cy="304.4" r="5.05"/><circle cx="370.85" cy="298.4" r="5.05"/><circle cx="379.67" cy="292.5" r="5.05"/><circle cx="387.3" cy="287.1" r="5.05"/><circle cx="394.04" cy="282" r="5.05"/><circle cx="400.06" cy="277.75" r="5.05"/><circle cx="405.51" cy="273.78" r="5.05"/><circle cx="410.49" cy="270.08" r="5.05"/><circle cx="415.06" cy="266.64" r="5.05"/><circle cx="419.3" cy="263.43" r="5.05"/><circle cx="423.24" cy="260.43" r="5.05"/><circle cx="426.93" cy="257.62" r="5.05"/><circle cx="430.4" cy="254.96" r="5.05"/><circle cx="433.67" cy="252.45" r="5.05"/><circle cx="436.76" cy="250.07" r="5.05"/><circle cx="439.69" cy="247.81" r="5.05"/><circle cx="442.48" cy="245.66" r="5.05"/><circle cx="445.14" cy="243.61" r="5.05"/><circle cx="447.69" cy="241.65" r="5.05"/><circle cx="450.12" cy="239.79" r="5.05"/><circle cx="452.45" cy="238" r="5.05"/><circle cx="454.7" cy="236.3" r="5.05"/><circle cx="456.85" cy="234.66" r="5.05"/><circle cx="458.93" cy="233.1" r="5.05"/><circle cx="460.94" cy="231.6" r="5.05"/><circle cx="462.88" cy="230.16" r="5.05"/><circle cx="464.75" cy="228.77" r="5.05"/><circle cx="466.57" cy="227.45" r="5.05"/><circle cx="468.33" cy="226.17" r="5.05"/><circle cx="470.03" cy="224.94" r="5.05"/><circle cx="471.69" cy="223.76" r="5.05"/><circle cx="473.3" cy="222.61" r="5.05"/><circle cx="474.87" cy="221.51" r="5.05"/><circle cx="476.39" cy="220.44" r="5.05"/><circle cx="477.88" cy="219.41" r="5.05"/><circle cx="479.33" cy="218.41" r="5.05"/><circle cx="480.74" cy="217.44" r="5.05"/><circle cx="482.12" cy="216.5" r="5.05"/><circle cx="483.46" cy="215.58" r="5.05"/><circle cx="484.78" cy="214.7" r="5.05"/><circle cx="486.06" cy="213.84" r="5.05"/><circle cx="487.32" cy="213.01" r="5.05"/><circle cx="488.55" cy="212.2" r="5.05"/><circle cx="489.75" cy="211.41" r="5.05"/><circle cx="490.93" cy="210.64" r="5.05"/><circle cx="492.09" cy="209.89" r="5.05"/><circle cx="493.22" cy="209.16" r="5.05"/><circle cx="494.33" cy="208.44" r="5.05"/><circle cx="495.42" cy="207.74" r="5.05"/><circle cx="496.49" cy="207.06" r="5.05"/><circle cx="497.54" cy="206.39" r="5.05"/><circle cx="498.57" cy="205.73" r="5.05"/><circle cx="499.58" cy="205.08" r="5.05"/><circle cx="500.57" cy="204.45" r="5.05"/><circle cx="501.55" cy="203.83" r="5.05"/><circle cx="502.51" cy="203.22" r="5.05"/><circle cx="503.46" cy="202.62" r="5.05"/><circle cx="504.39" cy="202.03" r="5.05"/><circle cx="505.3" cy="201.44" r="5.05"/><circle cx="506.2" cy="200.87" r="5.05"/><circle cx="507.09" cy="200.3" r="5.05"/><circle cx="507.96" cy="199.73" r="5.05"/><circle cx="508.82" cy="199.18" r="5.05"/><circle cx="509.67" cy="198.63" r="5.05"/><circle cx="510.5" cy="198.09" r="5.05"/><circle cx="511.33" cy="197.56" r="5.05"/>
</g>
<path d="M511.33 197.56 L512.94 196.52 L514.5 195.51 L516.03 194.55 L517.51 193.62 L518.96 192.73 L520.37 191.87 L521.75 191.05 L523.1 190.26 L524.41 189.49 L525.7 188.74 L526.95 188.01 L528.18 187.31 L529.39 186.62 L531.15 185.63 L532.85 184.67 L534.51 183.75 L536.12 182.87 L537.69 182.01 L539.21 181.19 L540.7 180.39 L542.15 179.62 L543.56 178.88 L544.93 178.16 L546.28 177.46 L547.59 176.78 L548.88 176.11 L550.14 175.47 L551.37 174.85 L552.57 174.24 L554.14 173.45 L555.66 172.69 L557.15 171.95 L558.59 171.24 L560.01 170.57 L561.38 169.93 L562.73 169.31 L564.04 168.7 L565.33 168.11 L566.59 167.52 L567.82 166.93 L569.02 166.34 L570.49 165.6 L571.92 164.84 L573.32 164.09 L574.69 163.33 L576.02 162.57 L577.32 161.81 L578.59 161.04 L579.84 160.28 L581.06 159.5 L582.49 158.57 L583.88 157.64 L585.25 156.7 L586.57 155.75 L587.87 154.81 L589.15 153.86 L590.39 152.91 L591.6 151.96 L592.99 150.86 L594.35 149.78 L595.67 148.71 L596.96 147.67 L598.23 146.66 L599.47 145.69 L600.68 144.75 L602.03 143.74 L603.35 142.8 L604.64 141.92 L605.91 141.12 L607.14 140.38 L608.35 139.71 L609.69 139.03 L610.99 138.47 L612.26 138.06 L613.5 137.77 L614.72 137.58 L616.05 137.45 L617.34 137.38 L618.6 137.35 L619.84 137.3 L621.05 137.24 L622.36 137.11 L623.63 136.91 L624.88 136.62 L626.1 136.22 L627.4 136.06 L628.67 136.64 L629.92 137.31 L631.14 138.01 L632.43 138.78 L633.69 139.5 L634.93 140.14 L636.14 140.73 L637.41 141.35 L638.66 141.94 L639.88 142.5 L641.16 143.05 L642.41 143.56 L643.64 144.03 L644.91 144.47 L646.16 144.89 L647.39 145.28 L648.66 145.67 L649.9 146.01 L651.12 146.31 L652.38 146.57 L653.61 146.77 L654.82 146.91 L656.07 147.02 L657.29 147.08 L658.55 147.11 L659.78 147.09 L660.99 147.04 L662.22 146.93 L663.38 146.82" stroke="#00ffff" stroke-width="10.1" stroke-linecap="round" stroke-linejoin="round" fill="none"/>
<g fill="#ff4500">
<circle cx="303.5" cy="292.6" r="5.05"/><circle cx="343.13" cy="288.9" r="5.05"/><circle cx="366.32" cy="283" r="5.05"/><circle cx="382.77" cy="277" r="5.05"/><circle cx="395.53" cy="271.1" r="5.05"/><circle cx="405.95" cy="265.5" r="5.05"/><circle cx="414.77" cy="260.1" r="5.05"/><circle cx="422.4" cy="255.9" r="5.05"/><circle cx="429.14" cy="252" r="5.05"/><circle cx="435.16" cy="248.09" r="5.05"/><circle cx="440.61" cy="244.43" r="5.05"/><circle cx="445.59" cy="241.03" r="5.05"/><circle cx="450.16" cy="237.86" r="5.05"/><circle cx="454.4" cy="234.9" r="5.05"/><circle cx="458.34" cy="232.14" r="5.05"/><circle cx="462.03" cy="229.56" r="5.05"/><circle cx="465.5" cy="227.15" r="5.05"/><circle cx="468.77" cy="224.9" r="5.05"/><circle cx="471.86" cy="222.78" r="5.05"/><circle cx="474.79" cy="220.8" r="5.05"/><circle cx="477.58" cy="218.92" r="5.05"/><circle cx="480.24" cy="217.14" r="5.05"/><circle cx="482.79" cy="215.46" r="5.05"/><circle cx="485.22" cy="213.87" r="5.05"/><circle cx="487.55" cy="212.36" r="5.05"/><circle cx="489.8" cy="210.92" r="5.05"/><circle cx="491.95" cy="209.54" r="5.05"/><circle cx="494.03" cy="208.22" r="5.05"/><circle cx="496.04" cy="206.96" r="5.05"/><circle cx="497.98" cy="205.74" r="5.05"/><circle cx="499.85" cy="204.56" r="5.05"/><circle cx="501.67" cy="203.43" r="5.05"/><circle cx="503.43" cy="202.32" r="5.05"/><circle cx="505.13" cy="201.25" r="5.05"/><circle cx="506.79" cy="200.2" r="5.05"/><circle cx="508.4" cy="199.17" r="5.05"/><circle cx="509.97" cy="198.17" r="5.05"/><circle cx="511.49" cy="197.2" r="5.05"/><circle cx="512.98" cy="196.25" r="5.05"/><circle cx="514.43" cy="195.33" r="5.05"/><circle cx="515.84" cy="194.45" r="5.05"/><circle cx="517.22" cy="193.59" r="5.05"/><circle cx="518.56" cy="192.77" r="5.05"/><circle cx="519.88" cy="191.97" r="5.05"/><circle cx="521.16" cy="191.21" r="5.05"/><circle cx="522.42" cy="190.47" r="5.05"/><circle cx="523.65" cy="189.75" r="5.05"/><circle cx="524.85" cy="189.05" r="5.05"/><circle cx="526.03" cy="188.37" r="5.05"/><circle cx="527.19" cy="187.71" r="5.05"/><circle cx="528.32" cy="187.06" r="5.05"/><circle cx="529.43" cy="186.43" r="5.05"/><circle cx="530.52" cy="185.82" r="5.05"/><circle cx="531.59" cy="185.22" r="5.05"/><circle cx="532.64" cy="184.63" r="5.05"/><circle cx="533.67" cy="184.06" r="5.05"/><circle cx="534.68" cy="183.51" r="5.05"/><circle cx="535.67" cy="182.96" r="5.05"/><circle cx="536.65" cy="182.43" r="5.05"/><circle cx="537.61" cy="181.91" r="5.05"/><circle cx="538.56" cy="181.4" r="5.05"/><circle cx="539.49" cy="180.9" r="5.05"/><circle cx="540.4" cy="180.41" r="5.05"/><circle cx="541.3" cy="179.93" r="5.05"/><circle cx="542.19" cy="179.46" r="5.05"/><circle cx="543.06" cy="179" r="5.05"/><circle cx="543.92" cy="178.55" r="5.05"/><circle cx="544.77" cy="178.11" r="5.05"/><circle cx="545.6" cy="177.67" r="5.05"/><circle cx="546.43" cy="177.25" r="5.05"/>
</g>
<path d="M546.43 177.25 L548.04 176.42 L549.6 175.62 L551.13 174.84 L552.61 174.09 L554.06 173.37 L555.47 172.66 L556.85 171.98 L558.2 171.32 L559.51 170.69 L560.8 170.09 L562.05 169.51 L563.28 168.95 L564.49 168.4 L566.25 167.58 L567.95 166.78 L569.61 165.97 L571.22 165.16 L572.79 164.35 L574.31 163.54 L575.8 162.74 L577.25 161.95 L578.66 161.17 L580.03 160.39 L581.38 159.63 L582.69 158.88 L583.98 158.14 L585.24 157.41 L586.47 156.69 L587.67 155.99 L589.24 155.08 L590.76 154.18 L592.25 153.31 L593.69 152.47 L595.11 151.64 L596.48 150.84 L597.83 150.06 L599.14 149.3 L600.43 148.56 L601.69 147.83 L602.92 147.13 L604.12 146.44 L605.59 145.59 L607.02 144.77 L608.42 143.96 L609.79 143.16 L611.12 142.37 L612.42 141.58 L613.69 140.79 L614.94 140.01 L616.16 139.23 L617.59 138.3 L618.98 137.37 L620.35 136.44 L621.67 135.52 L622.97 134.62 L624.25 133.73 L625.49 132.86 L626.7 132.01 L628.09 131.04 L629.45 130.11 L630.77 129.22 L632.06 128.36 L633.33 127.55 L634.57 126.77 L635.78 126.04 L637.13 125.26 L638.45 124.53 L639.74 123.86 L641.01 123.24 L642.24 122.7 L643.45 122.3 L644.79 122 L646.09 121.84 L647.36 121.78 L648.6 121.8 L649.82 121.86 L651.15 121.94 L652.44 122 L653.7 122.01 L654.94 121.94 L656.15 121.78 L657.46 121.49 L658.73 121.06 L659.98 121.1 L661.2 121.6 L662.5 122.22 L663.77 122.88 L665.02 123.54 L666.24 124.16 L667.53 124.77 L668.79 125.32 L670.03 125.86 L671.24 126.37 L672.51 126.9 L673.76 127.4 L674.98 127.86 L676.26 128.32 L677.51 128.74 L678.74 129.11 L680.01 129.49 L681.26 129.85 L682.49 130.18 L683.76 130.5 L685 130.77 L686.22 131 L687.48 131.19 L688.71 131.33 L689.92 131.42 L691.17 131.48 L692.39 131.5 L693.65 131.49 L694.88 131.44 L696.09 131.35 L697.32 131.22 L698.48 131.09" stroke="#ff4500" stroke-width="10.1" stroke-linecap="round" stroke-linejoin="round" fill="none"/>
<g fill="#808080">
<circle cx="328.8" cy="268.5" r="5.05"/><circle cx="368.43" cy="265.2" r="5.05"/><circle cx="391.62" cy="260.1" r="5.05"/><circle cx="408.07" cy="255.1" r="5.05"/><circle cx="420.83" cy="250.8" r="5.05"/><circle cx="431.25" cy="245.82" r="5.05"/><circle cx="440.07" cy="241.11" r="5.05"/><circle cx="447.7" cy="236.72" r="5.05"/><circle cx="454.44" cy="232.65" r="5.05"/><circle cx="460.46" cy="228.9" r="5.05"/><circle cx="465.91" cy="225.46" r="5.05"/><circle cx="470.89" cy="222.3" r="5.05"/><circle cx="475.46" cy="219.39" r="5.05"/><circle cx="479.7" cy="216.7" r="5.05"/><circle cx="483.64" cy="214.21" r="5.05"/><circle cx="487.33" cy="211.9" r="5.05"/><circle cx="490.8" cy="209.75" r="5.05"/><circle cx="494.07" cy="207.73" r="5.05"/><circle cx="497.16" cy="205.83" r="5.05"/><circle cx="500.09" cy="204.03" r="5.05"/><circle cx="502.88" cy="202.31" r="5.05"/><circle cx="505.54" cy="200.67" r="5.05"/><circle cx="508.09" cy="199.09" r="5.05"/><circle cx="510.52" cy="197.55" r="5.05"/><circle cx="512.85" cy="196.09" r="5.05"/><circle cx="515.1" cy="194.68" r="5.05"/><circle cx="517.25" cy="193.35" r="5.05"/><circle cx="519.33" cy="192.1" r="5.05"/><circle cx="521.34" cy="190.91" r="5.05"/><circle cx="523.28" cy="189.78" r="5.05"/><circle cx="525.15" cy="188.69" r="5.05"/><circle cx="526.97" cy="187.65" r="5.05"/><circle cx="528.73" cy="186.65" r="5.05"/><circle cx="530.43" cy="185.69" r="5.05"/><circle cx="532.09" cy="184.77" r="5.05"/><circle cx="533.7" cy="183.87" r="5.05"/><circle cx="535.27" cy="183.01" r="5.05"/><circle cx="536.79" cy="182.18" r="5.05"/><circle cx="538.28" cy="181.38" r="5.05"/><circle cx="539.73" cy="180.6" r="5.05"/><circle cx="541.14" cy="179.85" r="5.05"/><circle cx="542.52" cy="179.12" r="5.05"/><circle cx="543.86" cy="178.42" r="5.05"/><circle cx="545.18" cy="177.73" r="5.05"/><circle cx="546.46" cy="177.06" r="5.05"/><circle cx="547.72" cy="176.41" r="5.05"/><circle cx="548.95" cy="175.78" r="5.05"/><circle cx="550.15" cy="175.17" r="5.05"/><circle cx="551.33" cy="174.57" r="5.05"/><circle cx="552.49" cy="173.99" r="5.05"/><circle cx="553.62" cy="173.42" r="5.05"/><circle cx="554.73" cy="172.87" r="5.05"/><circle cx="555.82" cy="172.32" r="5.05"/><circle cx="556.89" cy="171.8" r="5.05"/><circle cx="557.94" cy="171.28" r="5.05"/><circle cx="558.97" cy="170.78" r="5.05"/><circle cx="559.98" cy="170.31" r="5.05"/><circle cx="560.97" cy="169.84" r="5.05"/><circle cx="561.95" cy="169.39" r="5.05"/><circle cx="562.91" cy="168.95" r="5.05"/><circle cx="563.86" cy="168.52" r="5.05"/><circle cx="564.79" cy="168.09" r="5.05"/><circle cx="565.7" cy="167.67" r="5.05"/><circle cx="566.6" cy="167.25" r="5.05"/><circle cx="567.49" cy="166.83" r="5.05"/><circle cx="568.36" cy="166.42" r="5.05"/><circle cx="569.22" cy="166" r="5.05"/><circle cx="570.07" cy="165.58" r="5.05"/><circle cx="570.9" cy="165.16" r="5.05"/><circle cx="571.73" cy="164.74" r="5.05"/>
</g>
<path d="M571.73 164.74 L573.34 163.9 L574.9 163.07 L576.43 162.25 L577.91 161.43 L579.36 160.63 L580.77 159.83 L582.15 159.05 L583.5 158.28 L584.81 157.53 L586.1 156.79 L587.35 156.06 L588.58 155.35 L589.79 154.65 L591.55 153.63 L593.25 152.65 L594.91 151.7 L596.52 150.78 L598.09 149.9 L599.61 149.05 L601.1 148.23 L602.55 147.44 L603.96 146.68 L605.33 145.95 L606.68 145.25 L607.99 144.57 L609.28 143.91 L610.54 143.26 L611.77 142.62 L612.97 142 L614.54 141.19 L616.06 140.39 L617.55 139.6 L618.99 138.82 L620.41 138.05 L621.78 137.29 L623.13 136.53 L624.44 135.79 L625.73 135.05 L626.99 134.31 L628.22 133.58 L629.42 132.85 L630.89 131.94 L632.32 131.03 L633.72 130.13 L635.09 129.23 L636.42 128.34 L637.72 127.45 L638.99 126.57 L640.24 125.7 L641.46 124.83 L642.89 123.82 L644.28 122.82 L645.65 121.84 L646.97 120.89 L648.27 119.97 L649.55 119.09 L650.79 118.23 L652 117.41 L653.39 116.49 L654.75 115.62 L656.07 114.8 L657.36 114.02 L658.63 113.3 L659.87 112.62 L661.08 111.98 L662.43 111.31 L663.75 110.71 L665.04 110.31 L666.31 110.1 L667.54 110.05 L668.75 110.12 L670.09 110.32 L671.39 110.58 L672.66 110.86 L673.9 111.12 L675.12 111.32 L676.45 111.43 L677.74 111.4 L679 111.22 L680.24 110.86 L681.45 110.84 L682.76 111.3 L684.03 111.83 L685.28 112.4 L686.5 112.98 L687.8 113.6 L689.07 114.17 L690.32 114.67 L691.54 115.15 L692.83 115.65 L694.09 116.12 L695.33 116.58 L696.54 117.01 L697.81 117.44 L699.06 117.84 L700.28 118.21 L701.56 118.56 L702.81 118.89 L704.04 119.2 L705.31 119.51 L706.56 119.8 L707.79 120.05 L709.06 120.29 L710.3 120.48 L711.52 120.63 L712.78 120.74 L714.01 120.81 L715.22 120.85 L716.47 120.86 L717.69 120.84 L718.95 120.78 L720.18 120.7 L721.39 120.58 L722.62 120.42 L723.78 120.27" stroke="#808080" stroke-width="10.1" stroke-linecap="round" stroke-linejoin="round" fill="none"/>
<g fill="#00ff00">
<circle cx="363.5" cy="239.4" r="5.05"/><circle cx="403.13" cy="236.1" r="5.05"/><circle cx="426.32" cy="233.1" r="5.05"/><circle cx="442.77" cy="228.4" r="5.05"/><circle cx="455.53" cy="223.6" r="5.05"/><circle cx="465.95" cy="219.6" r="5.05"/><circle cx="474.77" cy="215.6" r="5.05"/><circle cx="482.4" cy="211.8" r="5.05"/><circle cx="489.14" cy="208.4" r="5.05"/><circle cx="495.16" cy="204.83" r="5.05"/><circle cx="500.61" cy="201.62" r="5.05"/><circle cx="505.59" cy="198.69" r="5.05"/><circle cx="510.16" cy="195.95" r="5.05"/><circle cx="514.4" cy="193.4" r="5.05"/><circle cx="518.34" cy="191.08" r="5.05"/><circle cx="522.03" cy="188.98" r="5.05"/><circle cx="525.5" cy="187.04" r="5.05"/><circle cx="528.77" cy="185.25" r="5.05"/><circle cx="531.86" cy="183.57" r="5.05"/><circle cx="534.79" cy="182.01" r="5.05"/><circle cx="537.58" cy="180.54" r="5.05"/><circle cx="540.24" cy="179.15" r="5.05"/><circle cx="542.79" cy="177.85" r="5.05"/><circle cx="545.22" cy="176.61" r="5.05"/><circle cx="547.55" cy="175.44" r="5.05"/><circle cx="549.8" cy="174.32" r="5.05"/><circle cx="551.95" cy="173.26" r="5.05"/><circle cx="554.03" cy="172.25" r="5.05"/><circle cx="556.04" cy="171.27" r="5.05"/><circle cx="557.98" cy="170.34" r="5.05"/><circle cx="559.85" cy="169.47" r="5.05"/><circle cx="561.67" cy="168.65" r="5.05"/><circle cx="563.43" cy="167.86" r="5.05"/><circle cx="565.13" cy="167.09" r="5.05"/><circle cx="566.79" cy="166.34" r="5.05"/><circle cx="568.4" cy="165.6" r="5.05"/><circle cx="569.97" cy="164.85" r="5.05"/><circle cx="571.49" cy="164.09" r="5.05"/><circle cx="572.98" cy="163.34" r="5.05"/><circle cx="574.43" cy="162.6" r="5.05"/><circle cx="575.84" cy="161.86" r="5.05"/><circle cx="577.22" cy="161.12" r="5.05"/><circle cx="578.56" cy="160.4" r="5.05"/><circle cx="579.88" cy="159.68" r="5.05"/><circle cx="581.16" cy="158.97" r="5.05"/><circle cx="582.42" cy="158.27" r="5.05"/><circle cx="583.65" cy="157.58" r="5.05"/><circle cx="584.85" cy="156.9" r="5.05"/><circle cx="586.03" cy="156.24" r="5.05"/><circle cx="587.19" cy="155.58" r="5.05"/><circle cx="588.32" cy="154.94" r="5.05"/><circle cx="589.43" cy="154.31" r="5.05"/><circle cx="590.52" cy="153.69" r="5.05"/><circle cx="591.59" cy="153.09" r="5.05"/><circle cx="592.64" cy="152.5" r="5.05"/><circle cx="593.67" cy="151.92" r="5.05"/><circle cx="594.68" cy="151.35" r="5.05"/><circle cx="595.67" cy="150.79" r="5.05"/><circle cx="596.65" cy="150.25" r="5.05"/><circle cx="597.61" cy="149.72" r="5.05"/><circle cx="598.56" cy="149.2" r="5.05"/><circle cx="599.49" cy="148.7" r="5.05"/><circle cx="600.4" cy="148.2" r="5.05"/><circle cx="601.3" cy="147.72" r="5.05"/><circle cx="602.19" cy="147.26" r="5.05"/><circle cx="603.06" cy="146.8" r="5.05"/><circle cx="603.92" cy="146.36" r="5.05"/><circle cx="604.77" cy="145.92" r="5.05"/><circle cx="605.6" cy="145.5" r="5.05"/><circle cx="606.43" cy="145.09" r="5.05"/>
</g>
<path d="M606.43 145.09 L608.04 144.29 L609.6 143.53 L611.13 142.79 L612.61 142.08 L614.06 141.4 L615.47 140.73 L616.85 140.08 L618.2 139.45 L619.51 138.83 L620.8 138.22 L622.05 137.63 L623.28 137.06 L624.49 136.5 L626.25 135.68 L627.95 134.89 L629.61 134.11 L631.22 133.36 L632.79 132.62 L634.31 131.89 L635.8 131.17 L637.25 130.46 L638.66 129.76 L640.03 129.07 L641.38 128.38 L642.69 127.69 L643.98 127.01 L645.24 126.34 L646.47 125.68 L647.67 125.01 L649.24 124.14 L650.76 123.27 L652.25 122.42 L653.69 121.57 L655.11 120.73 L656.48 119.9 L657.83 119.08 L659.14 118.27 L660.43 117.47 L661.69 116.68 L662.92 115.89 L664.12 115.12 L665.59 114.17 L667.02 113.23 L668.42 112.31 L669.79 111.4 L671.12 110.51 L672.42 109.64 L673.69 108.79 L674.94 107.96 L676.16 107.15 L677.59 106.21 L678.98 105.29 L680.35 104.41 L681.67 103.55 L682.97 102.73 L684.25 101.94 L685.49 101.17 L686.7 100.44 L688.09 99.62 L689.45 98.85 L690.77 98.11 L692.06 97.4 L693.33 96.74 L694.57 96.1 L695.78 95.5 L697.13 94.86 L698.45 94.37 L699.74 94.12 L701.01 94.06 L702.24 94.17 L703.45 94.38 L704.79 94.71 L706.09 95.05 L707.36 95.37 L708.6 95.61 L709.82 95.74 L711.15 95.71 L712.44 95.49 L713.7 95.06 L714.94 95.46 L716.15 95.88 L717.46 96.4 L718.73 96.95 L719.98 97.5 L721.2 98.02 L722.5 98.55 L723.77 99.01 L725.02 99.45 L726.24 99.88 L727.53 100.33 L728.79 100.75 L730.03 101.15 L731.24 101.53 L732.51 101.9 L733.76 102.24 L734.98 102.54 L736.26 102.85 L737.51 103.13 L738.74 103.4 L740.01 103.67 L741.26 103.91 L742.49 104.12 L743.76 104.31 L745 104.45 L746.22 104.56 L747.48 104.63 L748.71 104.67 L749.92 104.68 L751.17 104.66 L752.39 104.61 L753.65 104.53 L754.88 104.43 L756.09 104.29 L757.32 104.11 L758.48 103.95" stroke="#00ff00" stroke-width="10.1" stroke-linecap="round" stroke-linejoin="round" fill="none"/>
<g fill="#ff0000">
<circle cx="423.5" cy="199" r="5.05"/><circle cx="463.13" cy="197" r="5.05"/><circle cx="486.32" cy="193.7" r="5.05"/><circle cx="502.77" cy="190.2" r="5.05"/><circle cx="515.53" cy="186.6" r="5.05"/><circle cx="525.95" cy="183.2" r="5.05"/><circle cx="534.77" cy="179.75" r="5.05"/><circle cx="542.4" cy="176.59" r="5.05"/><circle cx="549.14" cy="173.72" r="5.05"/><circle cx="555.16" cy="171.12" r="5.05"/><circle cx="560.61" cy="168.79" r="5.05"/><circle cx="565.59" cy="166.73" r="5.05"/><circle cx="570.16" cy="164.72" r="5.05"/><circle cx="574.4" cy="162.67" r="5.05"/><circle cx="578.34" cy="160.65" r="5.05"/><circle cx="582.03" cy="158.67" r="5.05"/><circle cx="585.5" cy="156.76" r="5.05"/><circle cx="588.77" cy="154.94" r="5.05"/><circle cx="591.86" cy="153.21" r="5.05"/><circle cx="594.79" cy="151.57" r="5.05"/><circle cx="597.58" cy="150.03" r="5.05"/><circle cx="600.24" cy="148.59" r="5.05"/><circle cx="602.79" cy="147.25" r="5.05"/><circle cx="605.22" cy="146.01" r="5.05"/><circle cx="607.55" cy="144.85" r="5.05"/><circle cx="609.8" cy="143.76" r="5.05"/><circle cx="611.95" cy="142.73" r="5.05"/><circle cx="614.03" cy="141.74" r="5.05"/><circle cx="616.04" cy="140.8" r="5.05"/><circle cx="617.98" cy="139.9" r="5.05"/><circle cx="619.85" cy="139.02" r="5.05"/><circle cx="621.67" cy="138.18" r="5.05"/><circle cx="623.43" cy="137.37" r="5.05"/><circle cx="625.13" cy="136.6" r="5.05"/><circle cx="626.79" cy="135.85" r="5.05"/><circle cx="628.4" cy="135.12" r="5.05"/><circle cx="629.97" cy="134.42" r="5.05"/><circle cx="631.49" cy="133.73" r="5.05"/><circle cx="632.98" cy="133.06" r="5.05"/><circle cx="634.43" cy="132.41" r="5.05"/><circle cx="635.84" cy="131.77" r="5.05"/><circle cx="637.22" cy="131.15" r="5.05"/><circle cx="638.56" cy="130.53" r="5.05"/><circle cx="639.88" cy="129.93" r="5.05"/><circle cx="641.16" cy="129.34" r="5.05"/><circle cx="642.42" cy="128.75" r="5.05"/><circle cx="643.65" cy="128.18" r="5.05"/><circle cx="644.85" cy="127.62" r="5.05"/><circle cx="646.03" cy="127.07" r="5.05"/><circle cx="647.19" cy="126.52" r="5.05"/><circle cx="648.32" cy="125.99" r="5.05"/><circle cx="649.43" cy="125.47" r="5.05"/><circle cx="650.52" cy="124.95" r="5.05"/><circle cx="651.59" cy="124.43" r="5.05"/><circle cx="652.64" cy="123.92" r="5.05"/><circle cx="653.67" cy="123.41" r="5.05"/><circle cx="654.68" cy="122.91" r="5.05"/><circle cx="655.67" cy="122.42" r="5.05"/><circle cx="656.65" cy="121.93" r="5.05"/><circle cx="657.61" cy="121.44" r="5.05"/><circle cx="658.56" cy="120.97" r="5.05"/><circle cx="659.49" cy="120.49" r="5.05"/><circle cx="660.4" cy="120.03" r="5.05"/><circle cx="661.3" cy="119.57" r="5.05"/><circle cx="662.19" cy="119.11" r="5.05"/><circle cx="663.06" cy="118.66" r="5.05"/><circle cx="663.92" cy="118.21" r="5.05"/><circle cx="664.77" cy="117.77" r="5.05"/><circle cx="665.6" cy="117.34" r="5.05"/><circle cx="666.43" cy="116.91" r="5.05"/>
</g>
<path d="M666.43 116.91 L668.04 116.07 L669.6 115.25 L671.13 114.45 L672.61 113.66 L674.06 112.9 L675.47 112.16 L676.85 111.44 L678.2 110.73 L679.51 110.04 L680.8 109.37 L682.05 108.7 L683.28 108.05 L684.49 107.41 L686.25 106.47 L687.95 105.55 L689.61 104.66 L691.22 103.78 L692.79 102.93 L694.31 102.1 L695.8 101.28 L697.25 100.49 L698.66 99.71 L700.03 98.95 L701.38 98.2 L702.69 97.48 L703.98 96.76 L705.24 96.06 L706.47 95.38 L707.67 94.7 L709.24 93.83 L710.76 92.97 L712.25 92.14 L713.69 91.31 L715.11 90.5 L716.48 89.7 L717.83 88.92 L719.14 88.15 L720.43 87.4 L721.69 86.66 L722.92 85.94 L724.12 85.24 L725.59 84.38 L727.02 83.55 L728.42 82.74 L729.79 81.96 L731.12 81.21 L732.42 80.47 L733.69 79.76 L734.94 79.07 L736.16 78.39 L737.59 77.6 L738.98 76.82 L740.35 76.05 L741.67 75.28 L742.97 74.51 L744.25 73.73 L745.49 72.97 L746.7 72.23 L748.09 71.4 L749.45 70.63 L750.77 69.91 L752.06 69.25 L753.33 68.67 L754.57 68.17 L755.78 67.72 L757.13 67.27 L758.45 66.86 L759.74 66.58 L761.01 66.49 L762.24 66.51 L763.45 66.56 L764.79 66.62 L766.09 66.76 L767.36 66.95 L768.6 67.18 L769.82 67.45 L771.15 67.77 L772.44 68.1 L773.7 68.47 L774.94 68.9 L776.15 69.36 L777.46 69.89 L778.73 70.41 L779.98 70.9 L781.2 71.36 L782.5 71.79 L783.77 72.21 L785.02 72.62 L786.24 73.01 L787.53 73.41 L788.79 73.78 L790.03 74.14 L791.24 74.47 L792.51 74.79 L793.76 75.08 L794.98 75.34 L796.26 75.61 L797.51 75.86 L798.74 76.1 L800.01 76.33 L801.26 76.53 L802.49 76.7 L803.76 76.84 L805 76.95 L806.22 77.03 L807.48 77.06 L808.71 77.07 L809.92 77.06 L811.17 77.01 L812.39 76.95 L813.65 76.85 L814.88 76.73 L816.09 76.58 L817.32 76.39 L818.48 76.22" stroke="#ff0000" stroke-width="10.1" stroke-linecap="round" stroke-linejoin="round" fill="none"/>
<path d="M183.5 405.3 L187.5 402.54 L191.5 399.77 L195.5 397.01 L199.5 394.24 L203.5 391.48 L207.5 388.71 L211.5 385.95 L215.49 383.19 L219.49 380.43 L223.49 377.68 L227.49 374.92 L231.49 372.18 L235.49 369.43 L239.49 366.7 L243.49 363.97 L247.49 361.24 L251.49 358.52 L255.49 355.8 L259.49 353.07 L263.49 350.35 L267.49 347.62 L271.49 344.89 L275.49 342.15 L279.48 339.4 L283.48 336.64 L287.48 333.86 L291.48 331.05 L295.48 328.22 L299.48 325.38 L303.48 322.55 L307.48 319.74 L311.48 316.96 L315.48 314.22 L319.48 311.54 L323.48 308.93 L327.48 306.37 L331.48 303.85 L335.48 301.37 L339.48 298.89 L343.47 296.42 L347.47 293.94 L351.47 291.43 L355.47 288.9 L359.47 286.37 L363.47 283.83 L367.47 281.29 L371.47 278.74 L375.47 276.19 L379.47 273.63 L383.47 271.03 L387.47 268.42 L391.47 265.8 L395.47 263.19 L399.47 260.61 L403.47 258.06 L407.46 255.55 L411.46 253.12 L415.46 250.75 L419.46 248.43 L423.46 246.14 L427.46 243.86 L431.46 241.55 L435.46 239.21 L439.46 236.84 L443.46 234.46 L447.46 232.06 L451.46 229.67 L455.46 227.3 L459.46 224.95 L463.46 222.64 L467.46 220.37 L471.45 218.15 L475.45 215.96 L479.45 213.8 L483.45 211.65 L487.45 209.54 L491.45 207.44 L495.45 205.34 L499.45 203.23 L503.45 201.08 L507.45 198.87 L511.45 196.59 L515.45 194.3 L519.45 192.1 L523.45 189.98 L527.45 187.9 L531.45 185.86 L535.44 183.84 L539.44 181.86 L543.44 179.9 L547.44 177.97 L551.44 176.06 L555.44 174.17 L559.44 172.32 L563.44 170.57 L567.44 168.8 L571.44 166.89 L575.44 164.83 L579.44 162.66 L583.44 160.42 L587.44 158.13 L591.44 155.83 L595.44 153.56 L599.43 151.34 L603.43 149.2 L607.43 147.18 L611.43 145.24 L615.43 143.34 L619.43 141.47 L623.43 139.61 L627.43 137.79 L631.43 135.99 L635.43 134.19 L639.43 132.36 L643.43 130.51 L647.43 128.63 L651.43 126.75 L655.43 124.86 L659.43 122.97 L663.42 121.09 L667.42 119.2 L671.42 117.32 L675.42 115.43 L679.42 113.55 L683.42 111.66 L687.42 109.77 L691.42 107.88 L695.42 105.99 L699.42 104.11 L703.42 102.22 L707.42 100.33 L711.42 98.44 L715.42 96.56 L719.42 94.67 L723.42 92.79 L727.41 90.91 L731.41 89.03 L735.41 87.15 L739.41 85.28 L743.41 83.4 L747.41 81.53 L751.41 79.66 L755.41 77.79 L759.41 75.91 L763.41 74.05 L767.41 72.18 L771.41 70.31 L775.41 68.44 L779.41 66.58 L783.41 64.72 L787.41 62.85 L791.4 60.99 L795.4 59.13 L799.4 57.27 L803.4 55.42 L807.4 53.56 L811.4 51.7 L815.4 49.85 L819.4 48" stroke="#000" stroke-width="2.5" stroke-dasharray="5 2.3" fill="none"/>
</svg>
</body></html>
